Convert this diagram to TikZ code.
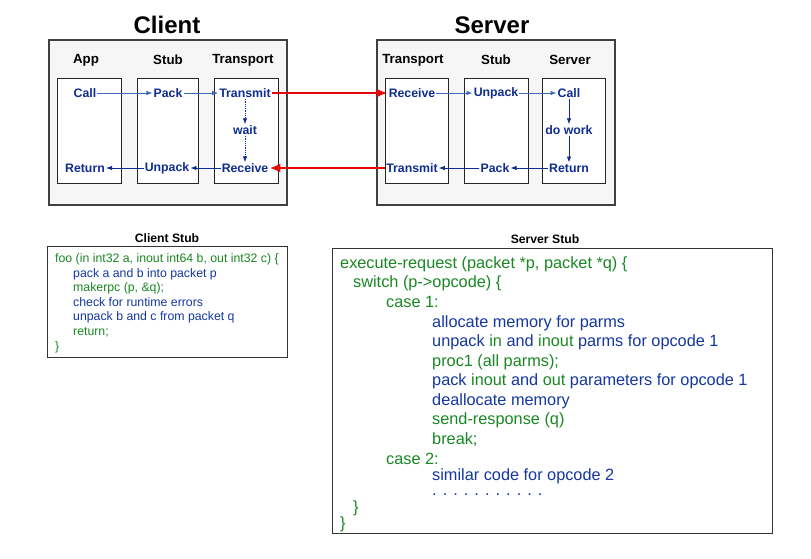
\documentclass[tikz,border=0pt]{standalone}
\usepackage{fontspec}
\setmainfont{Liberation Sans}
\usetikzlibrary{arrows.meta}

\definecolor{codegreen}{RGB}{25,135,35}
\definecolor{codeblue}{RGB}{20,55,160}
\definecolor{navy}{RGB}{15,45,145}
\definecolor{lightnavy}{RGB}{65,105,190}
\definecolor{boxgray}{RGB}{246,246,246}
\definecolor{netred}{RGB}{228,8,8}

\newcommand{\gr}[1]{\textcolor{codegreen}{#1}}

\begin{document}
\begin{tikzpicture}[>={Latex[length=6pt,width=4.5pt]}, x=1pt, y=-1pt,
  title/.style={font=\bfseries\fontsize{24}{28}\selectfont},
  head/.style={font=\bfseries\fontsize{13.3}{15}\selectfont},
  lbl/.style={font=\bfseries\fontsize{12.3}{14}\selectfont, text=navy, inner sep=1pt},
  outer/.style={draw=black!75, fill=boxgray, line width=1.2pt},
  inner/.style={draw=black!85, fill=white, line width=0.9pt},
  flow/.style={->, lightnavy, line width=0.8pt},
  back/.style={->, navy, line width=0.8pt},
  waitflow/.style={->, navy, line width=0.8pt, densely dotted},
  net/.style={-{Latex[length=11pt,width=9pt]}, netred, line width=2.6pt},
  stubtitle/.style={font=\bfseries\fontsize{12.2}{14}\selectfont},
  codebox/.style={draw=black!80, line width=1pt},
  small/.style={font=\fontsize{12.3}{14}\selectfont, text=codeblue, inner sep=0pt, anchor=mid west, yshift=-2pt},
  big/.style={font=\fontsize{16.3}{19}\selectfont, text=codeblue, inner sep=0pt, anchor=mid west, yshift=-2.5pt}]

\useasboundingbox (0,0) rectangle (811,559);

% client machine
\draw[outer] (49,40) rectangle (287,205);
\node[title] (client) at (167,25) {Client};
\draw[inner] (57,78) rectangle (121,183);
\draw[inner] (137,78) rectangle (198,183);
\draw[inner] (214,78) rectangle (278,183);
\node[head] (capp) at (86,60) {App};
\node[head] (cstub) at (168,60) {Stub};
\node[head] (ctrans) at (243,60) {Transport};

\node[lbl] (cCall) at (85,93) {Call};
\node[lbl] (cPack) at (168,93) {Pack};
\node[lbl] (cTransmit) at (245,93) {Transmit};
\node[lbl] (cWait) at (245,130) {wait};
\node[lbl] (cReceive) at (245,168) {Receive};
\node[lbl] (cUnpack) at (167,168) {Unpack};
\node[lbl] (cReturn) at (85,168) {Return};

\draw[flow] (cCall) -- (cPack);
\draw[flow] (cPack) -- (cTransmit);
\draw[waitflow] (cTransmit) -- (cWait);
\draw[waitflow] (cWait) -- (cReceive);
\draw[back] (cReceive) -- (cUnpack);
\draw[back] (cUnpack) -- (cReturn);

% server machine
\draw[outer] (377,40) rectangle (615,205);
\node[title] (server) at (492,25) {Server};
\draw[inner] (385,78) rectangle (448,183);
\draw[inner] (464,78) rectangle (528,183);
\draw[inner] (542,78) rectangle (605,183);
\node[head] (strans) at (413,60) {Transport};
\node[head] (sstub) at (496,60) {Stub};
\node[head] (sserv) at (570,60) {Server};

\node[lbl] (sReceive) at (412,93) {Receive};
\node[lbl] (sUnpack) at (496,93) {Unpack};
\node[lbl] (sCall) at (569,93) {Call};
\node[lbl] (sWork) at (569,130) {do work};
\node[lbl] (sReturn) at (569,168) {Return};
\node[lbl] (sPack) at (495,168) {Pack};
\node[lbl] (sTransmit) at (412,168) {Transmit};

\draw[flow] (sReceive) -- (sUnpack);
\draw[flow] (sUnpack) -- (sCall);
\draw[back] (sCall) -- (sWork);
\draw[back] (sWork) -- (sReturn);
\draw[back] (sReturn) -- (sPack);
\draw[back] (sPack) -- (sTransmit);

% network
\draw[net] (cTransmit.east) -- (sReceive.west);
\draw[net] (sTransmit.west) -- (cReceive.east);

% client stub code
\node[stubtitle] (cstubtitle) at (167,238) {Client Stub};
\draw[codebox] (47,246) rectangle (287,357);
\node[small] (c1) at (55,258) {\gr{foo (in int32 a, inout int64 b, out int32 c) \{}};
\node[small] (c2) at (73,273) {pack a and b into packet p};
\node[small] (c3) at (73,287) {\gr{makerpc (p, \&q);}};
\node[small] (c4) at (73,302) {check for runtime errors};
\node[small] (c5) at (73,316) {unpack b and c from packet q};
\node[small] (c6) at (73,331) {\gr{return;}};
\node[small] (c7) at (55,346) {\gr{\}}};

% server stub code
\node[stubtitle] (sstubtitle) at (545,239) {Server Stub};
\draw[codebox] (332,248) rectangle (772,533);
\node[big] (s1) at (340,263) {\gr{execute-request (packet *p, packet *q) \{}};
\node[big] (s2) at (353,282) {\gr{switch (p->opcode) \{}};
\node[big] (s3) at (386,302) {\gr{case 1:}};
\node[big] (s4) at (432,322) {allocate memory for parms};
\node[big] (s5) at (432,341) {unpack \gr{in} and \gr{inout} parms for opcode 1};
\node[big] (s6) at (432,361) {\gr{proc1 (all parms);}};
\node[big] (s7) at (432,380) {pack \gr{inout} and \gr{out} parameters for opcode 1};
\node[big] (s8) at (432,400) {deallocate memory};
\node[big] (s9) at (432,419) {\gr{send-response (q)}};
\node[big] (s10) at (432,439) {\gr{break;}};
\node[big] (s11) at (386,459) {\gr{case 2:}};
\node[big] (s12) at (432,475) {similar code for opcode 2};
\node[big] (s13) at (432,490) {. . . . . . . . . . .};
\node[big] (s14) at (353,507) {\gr{\}}};
\node[big] (s15) at (340,523) {\gr{\}}};

\end{tikzpicture}
\end{document}
